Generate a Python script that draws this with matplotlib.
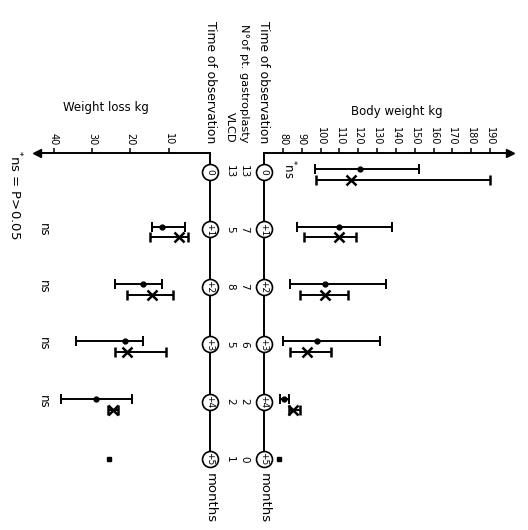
import numpy as np
import matplotlib
matplotlib.use("Agg")
import matplotlib.pyplot as plt
from matplotlib.transforms import blended_transform_factory as blend

# ---------------- data ----------------
months = [0, 1, 2, 3, 4, 5]
circle_labels = ["0", "+1", "+2", "+3", "+4", "+5"]
n_gastro = [13, 7, 7, 6, 2, 0]
n_vlcd = [13, 5, 8, 5, 2, 1]
ns_labels = ["", "ns", "ns", "ns", "ns", ""]

bw_ticks = [80, 90, 100, 110, 120, 130, 140, 150, 160, 170, 180, 190]
wl_ticks = [10, 20, 30, 40]

bw_months = [0, 1, 2, 3, 4]
bw_g_mean = [121.0, 109.5, 102.5, 98.0, 80.5]
bw_g_low = [97.0, 87.5, 83.5, 80.0, 78.5]
bw_g_high = [152.0, 138.0, 134.5, 131.5, 83.0]
bw_v_mean = [116.0, 109.5, 102.5, 93.0, 85.5]
bw_v_low = [97.5, 91.0, 89.0, 83.5, 83.0]
bw_v_high = [190.0, 119.0, 114.5, 105.5, 89.0]
bw_v_single = [78.0]     # month 5, one patient
single_month = [5]

wl_months = [1, 2, 3, 4]
wl_g_mean = [11.8, 16.6, 21.4, 28.9]
wl_g_low = [5.8, 11.7, 16.8, 19.7]
wl_g_high = [14.3, 24.0, 34.2, 38.2]
wl_v_mean = [7.2, 14.4, 21.0, 24.5]
wl_v_low = [4.9, 8.9, 10.8, 23.2]
wl_v_high = [14.8, 21.0, 24.0, 25.8]
wl_v_single = [25.5]

# ---------------- figure ----------------
W, H = 528, 530
fig = plt.figure(figsize=(W / 100, H / 100), dpi=100)
fig.patch.set_facecolor("white")

def fx(x):
    return x / W

def fy(y):
    return 1 - y / H

top_px, bot_px = 153, 459
ax_bw = fig.add_axes([fx(264), fy(bot_px), (510 - 264) / W, (bot_px - top_px) / H])
ax_wl = fig.add_axes([fx(37), fy(bot_px), (210 - 37) / W, (bot_px - top_px) / H])

ylim = (5, -0.331)
ax_bw.set_xlim(69.9, 200.6)
ax_bw.set_ylim(*ylim)
ax_wl.set_xlim(44.4, -0.8)
ax_wl.set_ylim(*ylim)

LW = 1.4
for ax, keep in ((ax_bw, ("top", "left")), (ax_wl, ("top", "right"))):
    ax.patch.set_alpha(0)
    for s in ax.spines:
        ax.spines[s].set_visible(s in keep)
        ax.spines[s].set_linewidth(LW)
    ax.set_yticks([])
    ax.xaxis.tick_top()
    ax.tick_params(axis="x", direction="out", length=3.5, width=1.1, pad=2,
                   labelsize=7, labelrotation=-90)

ax_bw.set_xticks(bw_ticks)
ax_wl.set_xticks(wl_ticks)

# arrow heads
ax_bw.plot([1], [1], marker=">", ms=6, color="black", transform=ax_bw.transAxes, clip_on=False)
ax_wl.plot([0], [1], marker="<", ms=6, color="black", transform=ax_wl.transAxes, clip_on=False)

# time-line circles
for ax, xa in ((ax_bw, 0), (ax_wl, 1)):
    tr = blend(ax.transAxes, ax.transData)
    ax.plot([xa] * len(months), months, "o", ms=11.5, mfc="white", mec="black",
            mew=1.2, transform=tr, clip_on=False, zorder=5)
    for m, lab in zip(months, circle_labels):
        ax.text(xa, m, lab, transform=tr, rotation=-90, ha="center", va="center",
                rotation_mode="anchor", fontsize=6.5, zorder=6)

# error bars
d_dot, d_x = -0.05, 0.14
eb = dict(color="black", lw=LW, capsize=3.5, capthick=LW, clip_on=False, linestyle="none")

def errs(mean, lo, hi):
    mean, lo, hi = map(np.asarray, (mean, lo, hi))
    return [mean - lo, hi - mean]

ax_bw.errorbar(bw_g_mean, np.array(bw_months) + d_dot, xerr=errs(bw_g_mean, bw_g_low, bw_g_high),
               marker="o", ms=3.5, **eb)
ax_bw.errorbar(bw_v_mean, np.array(bw_months) + d_x, xerr=errs(bw_v_mean, bw_v_low, bw_v_high),
               marker="x", ms=7, mew=1.8, **eb)
ax_bw.plot(bw_v_single, single_month, "s", ms=3.5, color="black", clip_on=False)

ax_wl.errorbar(wl_g_mean, np.array(wl_months) + d_dot, xerr=errs(wl_g_mean, wl_g_low, wl_g_high),
               marker="o", ms=3.5, **eb)
ax_wl.errorbar(wl_v_mean, np.array(wl_months) + d_x, xerr=errs(wl_v_mean, wl_v_low, wl_v_high),
               marker="x", ms=7, mew=1.8, **eb)
ax_wl.plot(wl_v_single, single_month, "s", ms=3.5, color="black", clip_on=False)

# patient-number columns and ns labels
trf = blend(fig.transFigure, ax_bw.transData)
for m, ng, nv, ns in zip(months, n_gastro, n_vlcd, ns_labels):
    fig.text(fx(244), m, str(ng), transform=trf, rotation=-90, ha="center", va="center",
             rotation_mode="anchor", fontsize=7.5)
    fig.text(fx(230), m, str(nv), transform=trf, rotation=-90, ha="center", va="center",
             rotation_mode="anchor", fontsize=7.5)
    if ns:
        fig.text(fx(43), m, ns, transform=trf, rotation=-90, ha="center", va="center",
                 rotation_mode="anchor", fontsize=8.5)

# headers (rotated)
rot = dict(rotation=-90, rotation_mode="anchor", va="center")
fig.text(fx(264), fy(143), "Time of observation", ha="right", fontsize=8.8, **rot)
fig.text(fx(210), fy(143), "Time of observation", ha="right", fontsize=8.8, **rot)
fig.text(fx(244), fy(143), "N°of pt. gastroplasty", ha="right", fontsize=8.2, **rot)
fig.text(fx(230), fy(143), "VLCD", ha="right", fontsize=8.2, **rot)
fig.text(fx(264), fy(473), "months", ha="left", fontsize=9.5, **rot)
fig.text(fx(210), fy(473), "months", ha="left", fontsize=9.5, **rot)
fig.text(fx(289), fy(159), r"$^{*}$ns", ha="left", fontsize=8.5, **rot)
fig.text(fx(15), fy(150), r"$^{*}$ns = P>0.05", ha="left", fontsize=9.5, **rot)

fig.text(fx(397), fy(112), "Body weight kg", ha="center", va="center", fontsize=8.5)
fig.text(fx(106), fy(107), "Weight loss kg", ha="center", va="center", fontsize=8.5)

fig.savefig("out.png", dpi=100, facecolor="white")
